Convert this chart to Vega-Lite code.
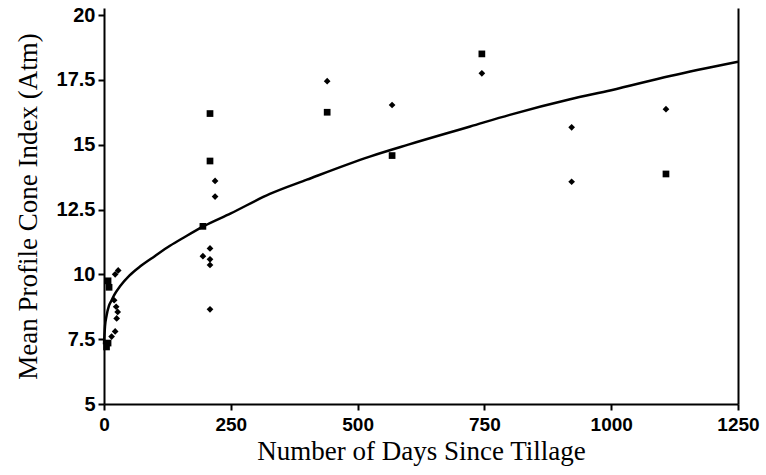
{
  "$schema": "https://vega.github.io/schema/vega-lite/v6.json",
  "autosize": {"type": "none"},
  "padding": {"left": 104, "top": 8, "right": 28, "bottom": 71},
  "width": 634,
  "height": 396,
  "background": "white",
  "config": {"view": {"stroke": null}},
  "datasets": {
    "curve": [
      {"days": 0, "value": 7.3}, {"days": 2, "value": 8.0}, {"days": 5, "value": 8.4},
      {"days": 10, "value": 8.8}, {"days": 15, "value": 9.0}, {"days": 20, "value": 9.2},
      {"days": 32, "value": 9.55}, {"days": 50, "value": 9.95}, {"days": 71, "value": 10.3},
      {"days": 100, "value": 10.7}, {"days": 130, "value": 11.1}, {"days": 160, "value": 11.45},
      {"days": 195, "value": 11.84}, {"days": 250, "value": 12.35}, {"days": 327, "value": 13.1},
      {"days": 400, "value": 13.65}, {"days": 524, "value": 14.54}, {"days": 600, "value": 15.0},
      {"days": 722, "value": 15.7}, {"days": 800, "value": 16.15}, {"days": 919, "value": 16.75},
      {"days": 1000, "value": 17.1}, {"days": 1116, "value": 17.65}, {"days": 1250, "value": 18.2}
    ],
    "points": [
      {"days": 5, "value": 7.2, "marker": "square"},
      {"days": 8, "value": 7.35, "marker": "square"},
      {"days": 15, "value": 7.6, "marker": "diamond"},
      {"days": 22, "value": 7.8, "marker": "diamond"},
      {"days": 25, "value": 8.3, "marker": "diamond"},
      {"days": 27, "value": 8.55, "marker": "diamond"},
      {"days": 24, "value": 8.75, "marker": "diamond"},
      {"days": 20, "value": 9.0, "marker": "diamond"},
      {"days": 10, "value": 9.5, "marker": "square"},
      {"days": 8, "value": 9.75, "marker": "square"},
      {"days": 22, "value": 10.0, "marker": "diamond"},
      {"days": 28, "value": 10.15, "marker": "diamond"},
      {"days": 209, "value": 16.2, "marker": "square"},
      {"days": 209, "value": 14.37, "marker": "square"},
      {"days": 219, "value": 13.6, "marker": "diamond"},
      {"days": 219, "value": 13.0, "marker": "diamond"},
      {"days": 195, "value": 11.85, "marker": "square"},
      {"days": 209, "value": 11.0, "marker": "diamond"},
      {"days": 195, "value": 10.7, "marker": "diamond"},
      {"days": 209, "value": 10.58, "marker": "diamond"},
      {"days": 209, "value": 10.36, "marker": "diamond"},
      {"days": 209, "value": 8.65, "marker": "diamond"},
      {"days": 440, "value": 17.45, "marker": "diamond"},
      {"days": 440, "value": 16.25, "marker": "square"},
      {"days": 568, "value": 16.53, "marker": "diamond"},
      {"days": 568, "value": 14.58, "marker": "square"},
      {"days": 745, "value": 18.5, "marker": "square"},
      {"days": 745, "value": 17.75, "marker": "diamond"},
      {"days": 922, "value": 15.67, "marker": "diamond"},
      {"days": 922, "value": 13.57, "marker": "diamond"},
      {"days": 1108, "value": 16.37, "marker": "diamond"},
      {"days": 1108, "value": 13.87, "marker": "square"}
    ]
  },
  "layer": [
    {
      "data": {"name": "curve"},
      "mark": {"type": "line", "color": "black", "strokeWidth": 2.5, "interpolate": "monotone"},
      "encoding": {
        "x": {
          "field": "days", "type": "quantitative",
          "scale": {"domain": [0, 1250], "nice": false, "zero": false},
          "axis": {
            "title": "Number of Days Since Tillage",
            "values": [0, 250, 500, 750, 1000, 1250],
            "format": "d",
            "grid": false,
            "domainColor": "black", "domainWidth": 2,
            "tickColor": "black", "tickWidth": 2, "tickSize": 6,
            "labelFont": "Liberation Sans", "labelFontWeight": "bold", "labelFontSize": 19,
            "labelColor": "black", "labelPadding": 5, "labelFlush": false,
            "titleFont": "Liberation Serif", "titleFontWeight": "normal", "titleFontSize": 27,
            "titleColor": "black", "titlePadding": 4
          }
        },
        "y": {
          "field": "value", "type": "quantitative",
          "scale": {"domain": [5, 20.27], "nice": false, "zero": false},
          "axis": {
            "title": "Mean Profile Cone Index (Atm)",
            "values": [5, 7.5, 10, 12.5, 15, 17.5, 20],
            "format": ".1~f",
            "grid": false,
            "domainColor": "black", "domainWidth": 2,
            "tickColor": "black", "tickWidth": 2, "tickSize": 6,
            "labelFont": "Liberation Sans", "labelFontWeight": "bold", "labelFontSize": 20,
            "labelColor": "black", "labelPadding": 3, "labelFlush": false,
            "titleFont": "Liberation Serif", "titleFontWeight": "normal", "titleFontSize": 27,
            "titleColor": "black", "titlePadding": 14
          }
        }
      }
    },
    {
      "data": {"name": "points"},
      "mark": {"type": "point", "filled": true, "color": "black", "opacity": 1, "size": 45},
      "encoding": {
        "x": {"field": "days", "type": "quantitative"},
        "y": {
          "field": "value", "type": "quantitative",
          "axis": {"orient": "right", "labels": false, "ticks": false, "title": null, "grid": false, "domainColor": "black", "domainWidth": 2}
        },
        "shape": {
          "field": "marker", "type": "nominal",
          "scale": {"domain": ["diamond", "square"], "range": ["diamond", "square"]},
          "legend": null
        }
      }
    }
  ],
  "resolve": {"axis": {"y": "independent"}}
}
